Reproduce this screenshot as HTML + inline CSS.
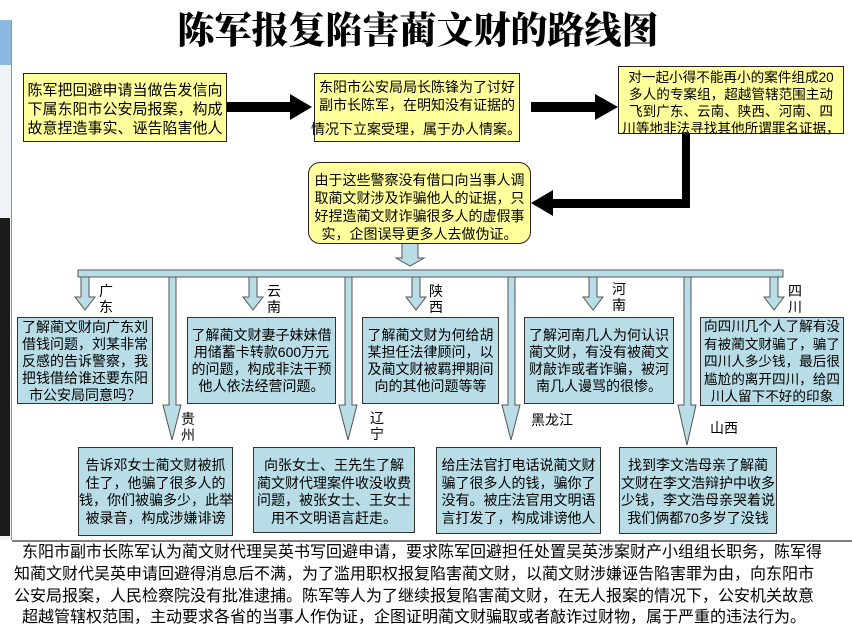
<!DOCTYPE html>
<html><head><meta charset="utf-8"><style>
body{margin:0;width:852px;height:627px;background:#fff;position:relative;overflow:hidden;font-family:"Liberation Sans","Noto Sans CJK SC",sans-serif;color:#000}
.b{position:absolute;box-sizing:border-box;border:1.5px solid #222;text-align:center;line-height:19px;font-size:14px;overflow:visible;white-space:nowrap}
.y{background:#ffff9c}
.c{background:#b8dde6;border-color:#333}
.l{position:absolute;font-size:14px;line-height:16px;width:16px;text-align:center}
.p{position:absolute;left:14px;font-size:16px;white-space:nowrap;line-height:22px}
</style></head><body>
<div style="position:absolute;left:0;top:20px;width:11px;height:520px;background:#eef3f8;border-right:1px solid #7a9ab8"></div>
<div style="position:absolute;left:0;top:20px;width:11px;height:45px;background:#8db8e0"></div>
<div style="position:absolute;left:0;top:218px;width:10px;height:318px;background:#1a1a1a"></div>
<div style="position:absolute;left:0;top:2px;width:852px;text-align:center;font-family:'Noto Serif CJK SC','Liberation Serif',serif;font-weight:900;font-size:37px;line-height:50px"><span style="position:relative;left:-8px">陈军报复陷害蔺文财的路线图</span></div>

<svg width="852" height="627" style="position:absolute;left:0;top:0">
<g fill="#000">
<rect x="226" y="102" width="66" height="10"/><polygon points="290,94 312,107 290,120"/>
<rect x="531" y="102" width="66" height="10"/><polygon points="595,94 618,107 595,120"/>
<rect x="682" y="133" width="8" height="75"/><rect x="550" y="199" width="140" height="9"/><polygon points="553,190 531,203 553,216"/>
</g>
<g fill="#b8dde6" stroke="#555" stroke-width="1">
<polygon points="402,243 402,258 396,258 410,266 424,258 418,258 418,243"/>
<rect x="78" y="270" width="705" height="7"/>
<polygon points="81,277 89,277 89,297 95,297 85,310 75,297 81,297"/>
<polygon points="249,277 257,277 257,297 263,297 253,310 243,297 249,297"/>
<polygon points="412,277 420,277 420,297 426,297 416,310 406,297 412,297"/>
<polygon points="589,277 597,277 597,297 603,297 593,310 583,297 589,297"/>
<polygon points="770,277 778,277 778,297 784,297 774,310 764,297 770,297"/>
<polygon points="169,277 176,277 176,405 181,405 172,440 163,405 169,405"/>
<polygon points="345,277 352,277 352,405 357,405 348,440 339,405 345,405"/>
<polygon points="508,277 515,277 515,405 520,405 511,440 502,405 508,405"/>
<polygon points="684,277 691,277 691,405 696,405 687,445 678,405 684,405"/>
</g>
<line x1="12" y1="541" x2="852" y2="541" stroke="#000" stroke-width="1"/>
</svg>

<div class="b y" style="left:23px;top:73px;width:204px;height:69px;font-size:15px;line-height:19px;padding-top:7px">陈军把回避申请当做告发信向<br>下属东阳市公安局报案，构成<br>故意捏造事实、诬告陷害他人</div>
<div class="b y" style="left:314px;top:73px;width:206px;height:69px;font-size:14px;line-height:18px;padding-top:4px">东阳市公安局局长陈锋为了讨好<br>副市长陈军，在明知没有证据的<br><span style="position:relative;left:-4px;top:6px">情况下立案受理，属于办人情案。</span></div>
<div class="b y" style="left:618px;top:66px;width:226px;height:68px;font-size:13.6px;line-height:17px;padding-top:2px">对一起小得不能再小的案件组成20<br>多人的专案组，超越管辖范围主动<br>飞到广东、云南、陕西、河南、四<br>川等地非法寻找其他所谓罪名证据，</div>
<div class="b y" style="left:308px;top:162px;width:223px;height:82px;border-radius:12px;font-size:14px;line-height:18px;padding-top:8px">由于这些警察没有借口向当事人调<br>取蔺文财涉及诈骗他人的证据，只<br>好捏造蔺文财诈骗很多人的虚假事<br>实，企图误导更多人去做伪证。</div>

<div class="l" style="left:98px;top:283px">广<br>东</div>
<div class="l" style="left:266px;top:283px">云<br>南</div>
<div class="l" style="left:428px;top:283px">陕<br>西</div>
<div class="l" style="left:611px;top:281px">河<br>南</div>
<div class="l" style="left:787px;top:283px">四<br>川</div>
<div class="l" style="left:180px;top:411px">贵<br>州</div>
<div class="l" style="left:369px;top:410px">辽<br>宁</div>
<div class="l" style="left:527px;top:412px;width:50px">黑龙江</div>
<div class="l" style="left:704px;top:420px;width:40px">山西</div>

<div class="b c" style="left:17px;top:317px;width:136px;height:87px;padding-top:1px;line-height:17px">了解蔺文财向广东刘<br>借钱问题，刘某非常<br>反感的告诉警察，我<br>把钱借给谁还要东阳<br>市公安局同意吗？</div>
<div class="b c" style="left:187px;top:317px;width:149px;height:87px;padding-top:9px;line-height:17px">了解蔺文财妻子妹妹借<br>用储蓄卡转款600万元<br>的问题，构成非法干预<br>他人依法经营问题。</div>
<div class="b c" style="left:362px;top:317px;width:137px;height:87px;padding-top:9px;line-height:17px">了解蔺文财为何给胡<br>某担任法律顾问，以<br>及蔺文财被羁押期间<br>向的其他问题等等</div>
<div class="b c" style="left:524px;top:317px;width:150px;height:87px;padding-top:9px;line-height:17px">了解河南几人为何认识<br>蔺文财，有没有被蔺文<br>财敲诈或者诈骗，被河<br>南几人谩骂的很惨。</div>
<div class="b c" style="left:700px;top:317px;width:144px;height:89px;padding-top:0px;line-height:17.5px;font-size:13.6px">向四川几个人了解有没<br>有被蔺文财骗了，骗了<br>四川人多少钱，最后很<br>尴尬的离开四川，给四<br>川人留下不好的印象</div>

<div class="b c" style="left:78px;top:447px;width:155px;height:89px;padding-top:9px;line-height:17.5px">告诉邓女士蔺文财被抓<br>住了，他骗了很多人的<br>钱，你们被骗多少，此举<br>被录音，构成涉嫌诽谤</div>
<div class="b c" style="left:253px;top:447px;width:162px;height:86px;padding-top:9px;line-height:17.5px">向张女士、王先生了解<br>蔺文财代理案件收没收费<br>问题，被张女士、王女士<br>用不文明语言赶走。</div>
<div class="b c" style="left:436px;top:447px;width:165px;height:87px;padding-top:9px;line-height:17.5px">给庄法官打电话说蔺文财<br>骗了很多人的钱，骗你了<br>没有。被庄法官用文明语<br>言打发了，构成诽谤他人</div>
<div class="b c" style="left:619px;top:447px;width:158px;height:87px;padding-top:9px;line-height:17.5px">找到李文浩母亲了解蔺<br>文财在李文浩辩护中收多<br>少钱，李文浩母亲哭着说<br>我们俩都70多岁了没钱</div>

<div class="p" style="top:542px;left:22px">东阳市副市长陈军认为蔺文财代理吴英书写回避申请，要求陈军回避担任处置吴英涉案财产小组组长职务，陈军得</div>
<div class="p" style="top:564px">知蔺文财代吴英申请回避得消息后不满，为了滥用职权报复陷害蔺文财，以蔺文财涉嫌诬告陷害罪为由，向东阳市</div>
<div class="p" style="top:586px">公安局报案，人民检察院没有批准逮捕。陈军等人为了继续报复陷害蔺文财，在无人报案的情况下，公安机关故意</div>
<div class="p" style="top:607px;left:22px">超越管辖权范围，主动要求各省的当事人作伪证，企图证明蔺文财骗取或者敲诈过财物，属于严重的违法行为。</div>
</body></html>
